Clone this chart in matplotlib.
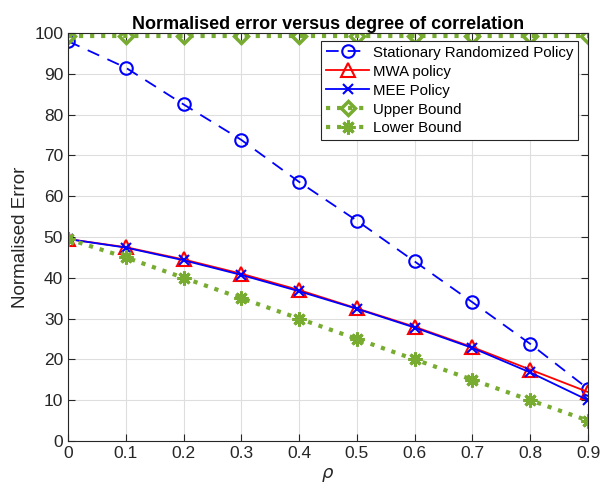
import matplotlib
matplotlib.use("Agg")
import matplotlib.pyplot as plt
import numpy as np

plt.rcParams['font.family'] = ['Liberation Sans', 'DejaVu Sans']

rho = [0, 0.1, 0.2, 0.3, 0.4, 0.5, 0.6, 0.7, 0.8, 0.9]
stationary = [98, 91.5, 82.5, 73.8, 63.5, 54, 44, 34, 23.8, 12.8]
mwa = [49.5, 47.5, 44.5, 41, 37, 32.5, 28, 23, 17.5, 12]
mee = [49.5, 47.4, 44.3, 40.7, 36.7, 32.4, 27.8, 22.8, 16.8, 10]
upper = [99.2] * 10
lower = [49.5, 45, 40, 35, 30, 25, 20, 15, 10, 5]

green = (0.466, 0.674, 0.188)
axcol = (0.15, 0.15, 0.15)

fig = plt.figure(figsize=(6.06, 4.91), dpi=100)
ax = fig.add_axes([68/606, 1 - 441/491, 520/606, 408/491])

ax.plot(rho, stationary, '--o', color='blue', lw=1.3, ms=9, mfc='none', mew=1.5,
        dashes=(7, 5), label='Stationary Randomized Policy')
ax.plot(rho, mwa, '-^', color='red', lw=1.3, ms=9.5, mfc='none', mew=1.5, label='MWA policy')
ax.plot(rho, mee, '-x', color='blue', lw=1.3, ms=7.5, mew=1.5, label='MEE Policy')
ax.plot(rho, upper, ':D', color=green, lw=3, ms=7, mfc='none', mew=2.5, label='Upper Bound')
ax.plot(rho, lower, ':', marker=(8, 2, 0), color=green, lw=3, ms=10, mew=2.2, label='Lower Bound')

ax.set_xlim(0, 0.9)
ax.set_ylim(0, 100)
ax.set_xticks(rho)
ax.set_xticklabels(['0'] + ['%.1f' % r for r in rho[1:]])
ax.set_yticks(np.arange(0, 101, 10))
ax.grid(True, color=(0.87, 0.87, 0.87), lw=0.8)
ax.set_axisbelow(True)
ax.tick_params(direction='in', top=True, right=True, colors=axcol, labelsize=12.5,
               length=5, labelcolor=axcol)
for s in ax.spines.values():
    s.set_color(axcol)
ax.set_xlabel(r'$\rho$', fontsize=13, color=axcol)
ax.set_ylabel('Normalised Error', fontsize=13.5, color=axcol)
ax.set_title('Normalised error versus degree of correlation', fontsize=13,
             fontweight='bold', pad=3)

leg = ax.legend(loc='upper right', bbox_to_anchor=(0.981, 0.980), fontsize=10.8,
                fancybox=False, framealpha=1, edgecolor=axcol, handlelength=2.9,
                borderpad=0.3, labelspacing=0.33, handletextpad=0.25, borderaxespad=0)
leg.get_frame().set_linewidth(0.8)

fig.savefig('out.png', dpi=100)
